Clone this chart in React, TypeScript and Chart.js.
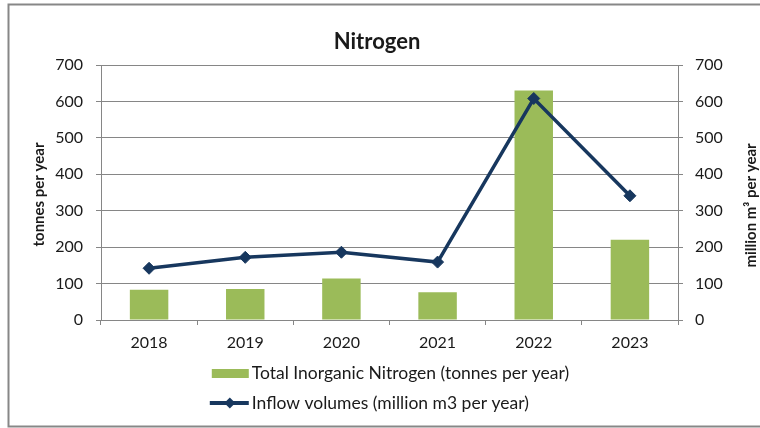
import React, { useEffect, useRef } from 'react';
import { Chart, registerables } from 'chart.js';

Chart.register(...registerables);

const years = ['2018', '2019', '2020', '2021', '2022', '2023'];
const nitrogen = [83, 85, 114, 76, 630, 220];
const inflow = [142, 172, 186, 159, 608, 341];
const axisMin = 0;
const axisMax = 700;
const axisStep = 100;

const chartTitle = 'Nitrogen';
const leftTitle = 'tonnes per year';
const rightTitle = 'million m³ per year';
const nitrogenLabel = 'Total Inorganic Nitrogen (tonnes per year)';
const inflowLabel = 'Inflow volumes (million m3 per year)';

const FONT = 'Lato, "Open Sans", sans-serif';
const TEXT = '#1a1a1a';
const GRID = '#868686';
const GREEN = '#9BBB59';
const NAVY = '#17375E';

const decor = {
  id: 'decor',
  beforeDraw(chart: any) {
    const ctx = chart.ctx;
    ctx.save();
    ctx.fillStyle = '#ffffff';
    ctx.fillRect(0, 0, chart.width, chart.height);
    ctx.strokeStyle = '#878787';
    ctx.lineWidth = 2;
    ctx.strokeRect(8.5, 4.5, 800, 422);
    ctx.restore();
  },
  afterDraw(chart: any) {
    const { ctx, chartArea } = chart;
    const cx = (chartArea.left + chartArea.right) / 2;
    const cy = (chartArea.top + chartArea.bottom) / 2;
    ctx.save();
    ctx.fillStyle = TEXT;
    ctx.textAlign = 'center';
    ctx.textBaseline = 'middle';
    ctx.font = `bold 22px ${FONT}`;
    ctx.fillText(chartTitle, 377, 42);

    ctx.font = `bold 15px ${FONT}`;
    ctx.save();
    ctx.translate(39, cy + 2);
    ctx.rotate(-Math.PI / 2);
    ctx.fillText(leftTitle, 0, 0);
    ctx.restore();
    ctx.save();
    ctx.translate(751, cy + 13);
    ctx.rotate(-Math.PI / 2);
    ctx.fillText(rightTitle, 0, 0);
    ctx.restore();

    // legend
    ctx.font = `17.5px ${FONT}`;
    const labels = chart.data.datasets.map((d: any) => d.label);
    const textW = Math.max(...labels.map((l: string) => ctx.measureText(l).width));
    const blockW = 42 + textW;
    const left = cx - blockW / 2;
    const textX = left + 42;
    ctx.textAlign = 'left';
    const row1 = chartArea.bottom + 53;
    const row2 = chartArea.bottom + 83;
    const ds0 = chart.data.datasets[0];
    const ds1 = chart.data.datasets[1];
    ctx.fillStyle = ds0.backgroundColor;
    ctx.fillRect(left + 2, row1 - 4, 37, 9);
    ctx.fillStyle = TEXT;
    ctx.fillText(ds0.label, textX, row1);

    ctx.strokeStyle = ds1.borderColor;
    ctx.lineWidth = 4;
    ctx.beginPath();
    ctx.moveTo(left, row2);
    ctx.lineTo(left + 39, row2);
    ctx.stroke();
    ctx.fillStyle = ds1.borderColor;
    const dx = left + 20;
    const r = 5.5;
    ctx.beginPath();
    ctx.moveTo(dx - r, row2);
    ctx.lineTo(dx, row2 - r);
    ctx.lineTo(dx + r, row2);
    ctx.lineTo(dx, row2 + r);
    ctx.closePath();
    ctx.fill();
    ctx.fillStyle = TEXT;
    ctx.fillText(ds1.label, textX, row2);
    ctx.restore();
  },
};

export default function App() {
  const ref = useRef<HTMLCanvasElement>(null);
  useEffect(() => {
    if (!ref.current) return;
    const tickFont = { family: FONT, size: 16 };
    const chart = new Chart(ref.current, {
      type: 'bar',
      data: {
        labels: years,
        datasets: [
          {
            type: 'bar',
            label: nitrogenLabel,
            data: nitrogen,
            backgroundColor: GREEN,
            borderWidth: 0,
            barPercentage: 0.4,
            categoryPercentage: 1,
            yAxisID: 'y',
            order: 2,
          },
          {
            type: 'line',
            label: inflowLabel,
            data: inflow,
            borderColor: NAVY,
            backgroundColor: NAVY,
            borderWidth: 3.5,
            pointStyle: 'rectRot',
            pointRadius: 6,
            pointBackgroundColor: NAVY,
            pointBorderColor: NAVY,
            pointBorderWidth: 1,
            tension: 0,
            yAxisID: 'y1',
            order: 1,
          } as any,
        ],
      },
      options: {
        animation: false,
        responsive: false,
        maintainAspectRatio: false,
        layout: { padding: { top: 65, left: 0, right: 0, bottom: 0 } },
        plugins: {
          legend: { display: false },
          title: { display: false },
          tooltip: { enabled: false },
        },
        scales: {
          x: {
            offset: true,
            grid: { display: true, drawOnChartArea: false, tickLength: 5, color: GRID, offset: true },
            border: { color: GRID, width: 1 },
            ticks: { font: tickFont, color: TEXT, padding: 8 },
            afterFit: (s: any) => { s.height = 108; },
          },
          y: {
            position: 'left',
            min: axisMin,
            max: axisMax,
            ticks: { stepSize: axisStep, font: tickFont, color: TEXT, padding: 13 },
            grid: { color: GRID, tickLength: 5 },
            border: { color: GRID, width: 1 },
            afterFit: (s: any) => { s.width = 101; },
          },
          y1: {
            position: 'right',
            min: axisMin,
            max: axisMax,
            ticks: { stepSize: axisStep, font: tickFont, color: TEXT, padding: 12 },
            grid: { drawOnChartArea: false, color: GRID, tickLength: 5 },
            border: { color: GRID, width: 1 },
            afterFit: (s: any) => { s.width = 82; },
          },
        },
      },
      plugins: [decor],
    });
    return () => chart.destroy();
  }, []);
  return (
    <div style={{ position: 'fixed', left: 0, top: 0, width: 760, height: 428 }}>
      <canvas ref={ref} width={760} height={428} style={{ display: 'block' }} />
    </div>
  );
}
